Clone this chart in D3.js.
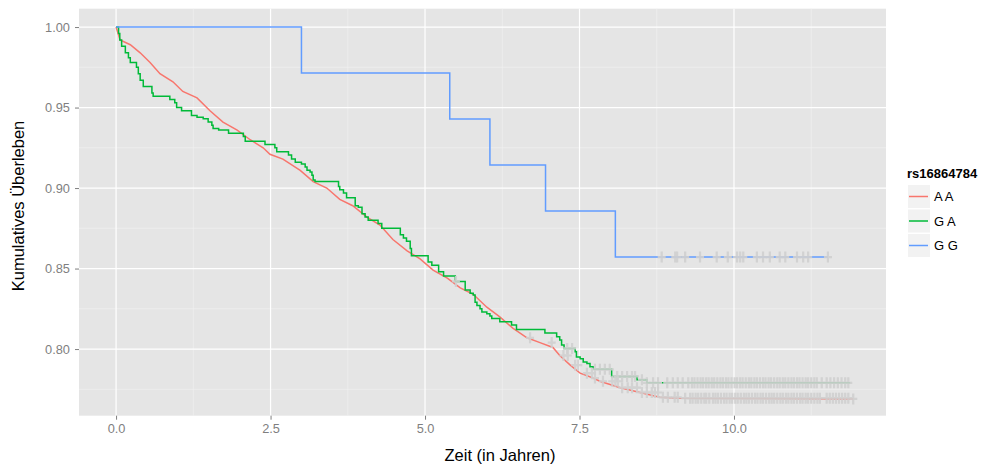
<!DOCTYPE html>
<html>
<head>
<meta charset="utf-8">
<script src="https://d3js.org/d3.v7.min.js"></script>
<style>
  body { margin: 0; background: #fff; }
  text { font-family: "Liberation Sans", Arial, Helvetica, sans-serif; }
</style>
</head>
<body>
<svg width="982" height="468"></svg>
<script>
// Kaplan-Meier steps per genotype: [time in years, survival]
var stepsAA = [[0,1],[0.065,0.992],[0.23,0.989],[0.39,0.984],[0.55,0.978],[0.71,0.971],[0.92,0.966],[1.08,0.960],
  [1.31,0.956],[1.52,0.948],[1.73,0.941],[1.96,0.936],[2.17,0.930],[2.38,0.925],[2.49,0.921],[2.70,0.918],
  [2.98,0.911],[3.19,0.904],[3.41,0.900],[3.62,0.893],[3.83,0.889],[4.06,0.882],[4.27,0.877],[4.48,0.868],
  [4.71,0.861],[4.92,0.856],[5.13,0.849],[5.36,0.844],[5.57,0.838],[5.78,0.834],[6.0,0.826],[6.21,0.820],
  [6.42,0.813],[6.65,0.807],[6.86,0.804],[7.07,0.801],[7.18,0.796],[7.35,0.790],[7.51,0.785],[7.72,0.782],
  [7.83,0.780],[8.16,0.776],[8.48,0.773],[8.80,0.770],[9.13,0.7695],[11.93,0.769]];
var stepsGA = [[0,1],[0.04,0.996],[0.06,0.992],[0.09,0.988],[0.15,0.984],[0.20,0.981],[0.23,0.978],[0.33,0.975],
  [0.36,0.971],[0.39,0.967],[0.44,0.963],[0.58,0.959],[0.60,0.957],[0.87,0.955],[0.95,0.953],[0.98,0.950],
  [1.06,0.948],[1.22,0.945],[1.31,0.944],[1.41,0.943],[1.49,0.941],[1.55,0.939],[1.57,0.937],[1.66,0.936],
  [1.82,0.934],[2.06,0.932],[2.09,0.929],[2.41,0.927],[2.57,0.925],[2.60,0.9226],[2.79,0.9205],[2.84,0.918],
  [2.90,0.916],[3.0,0.915],[3.06,0.913],[3.09,0.911],[3.14,0.910],[3.17,0.908],[3.19,0.905],[3.22,0.904],
  [3.60,0.901],[3.62,0.899],[3.68,0.897],[3.73,0.894],[3.87,0.889],[3.92,0.888],[3.98,0.884],[4.03,0.882],
  [4.08,0.880],[4.24,0.878],[4.30,0.875],[4.60,0.871],[4.65,0.869],[4.70,0.867],[4.76,0.8625],[4.78,0.858],
  [5.05,0.854],[5.11,0.852],[5.22,0.848],[5.30,0.8453],[5.49,0.842],[5.65,0.8367],[5.73,0.8346],[5.78,0.8335],
  [5.81,0.829],[5.84,0.827],[5.89,0.825],[5.92,0.823],[6.0,0.822],[6.05,0.8205],[6.08,0.819],[6.21,0.817],
  [6.40,0.815],[6.48,0.8122],[6.94,0.810],[7.13,0.8076],[7.18,0.8056],[7.21,0.8025],[7.25,0.8004],[7.43,0.7983],
  [7.45,0.795],[7.51,0.794],[7.56,0.792],[7.62,0.791],[7.67,0.789],[7.72,0.7874],[8.02,0.783],[8.43,0.781],
  [8.59,0.779],[11.88,0.779]];
var stepsGG = [[0,1],[3.0,0.9714],[5.4,0.9429],[6.05,0.9143],[6.95,0.8857],[8.08,0.8571],[11.52,0.8571]];

// censoring times (drawn as + marks)
var censAA = [6.70,7.05,7.24,7.31,7.43,7.48,7.62,7.70,7.75,7.88,8.03,8.08,8.12,8.19,8.28,8.35,8.43,8.51,8.59,8.67,
  8.72,8.77,8.85,8.93,9.04,9.09,9.21,9.29,9.33,9.38,9.42,9.47,9.52,9.55,9.60,9.66,9.70,9.74,9.79,9.84,9.88,
  9.93,9.97,10.02,10.06,10.11,10.16,10.20,10.24,10.29,10.34,10.38,10.43,10.47,10.52,10.57,10.61,10.65,10.70,
  10.75,10.79,10.84,10.88,10.93,10.97,11.02,11.07,11.11,11.16,11.20,11.25,11.30,11.35,11.39,11.50,11.55,
  11.60,11.65,11.70,11.75,11.80,11.85,11.93];
var censGA = [5.50,7.30,7.38,7.75,7.83,7.91,7.99,8.11,8.19,8.27,8.35,8.40,8.51,8.59,8.69,8.77,8.92,9.01,9.09,9.17,
  9.26,9.32,9.36,9.41,9.46,9.50,9.55,9.59,9.64,9.68,9.73,9.78,9.82,9.87,9.91,9.96,10.01,10.05,10.10,10.14,
  10.19,10.24,10.28,10.33,10.37,10.42,10.47,10.51,10.56,10.60,10.65,10.70,10.74,10.79,10.83,10.88,10.93,
  10.97,11.02,11.06,11.11,11.16,11.20,11.25,11.30,11.34,11.42,11.50,11.56,11.62,11.68,11.74,11.80,11.85];
var censGG = [8.83,9.05,9.08,9.21,9.45,9.72,9.90,10.05,10.10,10.15,10.37,10.47,10.58,10.74,10.83,11.02,11.12,11.20,11.52];

var groups = ["A A", "G A", "G G"];
var colors = ["#F8766D", "#00BA38", "#619CFF"];
var xTicks = [0, 2.5, 5, 7.5, 10];
var xMinor = [1.25, 3.75, 6.25, 8.75, 11.25];
var yTicks = [0.80, 0.85, 0.90, 0.95, 1.00];
var yMinor = [0.775, 0.825, 0.875, 0.925, 0.975];

var svg = d3.select("svg");
var panel = {left: 79, right: 886, top: 8.7, bottom: 415.7};

var x = d3.scaleLinear().domain([-0.6, 12.46]).range([panel.left, panel.right]);
var y = d3.scaleLinear().domain([0.7586, 1.0114]).range([panel.bottom, panel.top]);

// panel background
svg.append("rect")
  .attr("x", panel.left).attr("y", panel.top)
  .attr("width", panel.right - panel.left).attr("height", panel.bottom - panel.top)
  .attr("fill", "#E5E5E5");

// grid lines
var grid = svg.append("g");
grid.selectAll(".xminor").data(xMinor).enter().append("line")
  .attr("x1", d => x(d)).attr("x2", d => x(d))
  .attr("y1", panel.top).attr("y2", panel.bottom)
  .attr("stroke", "#F2F2F2").attr("stroke-width", 0.6);
grid.selectAll(".yminor").data(yMinor).enter().append("line")
  .attr("y1", d => y(d)).attr("y2", d => y(d))
  .attr("x1", panel.left).attr("x2", panel.right)
  .attr("stroke", "#F2F2F2").attr("stroke-width", 0.6);
grid.selectAll(".xmajor").data(xTicks).enter().append("line")
  .attr("x1", d => x(d)).attr("x2", d => x(d))
  .attr("y1", panel.top).attr("y2", panel.bottom)
  .attr("stroke", "#FFFFFF").attr("stroke-width", 1.2);
grid.selectAll(".ymajor").data(yTicks).enter().append("line")
  .attr("y1", d => y(d)).attr("y2", d => y(d))
  .attr("x1", panel.left).attr("x2", panel.right)
  .attr("stroke", "#FFFFFF").attr("stroke-width", 1.2);

// axes
var xAxis = svg.append("g")
  .attr("transform", "translate(0," + panel.bottom + ")")
  .call(d3.axisBottom(x).tickValues(xTicks).tickFormat(d3.format(".1f")).tickSize(4).tickPadding(4));
var yAxis = svg.append("g")
  .attr("transform", "translate(" + panel.left + ",0)")
  .call(d3.axisLeft(y).tickValues(yTicks).tickFormat(d3.format(".2f")).tickSize(4).tickPadding(5));
[xAxis, yAxis].forEach(function(a) {
  a.select(".domain").remove();
  a.selectAll("line").attr("stroke", "#7F7F7F");
  a.selectAll("text").attr("fill", "#7F7F7F").style("font-size", "12.8px")
    .style("font-family", "'Liberation Sans', Arial, sans-serif");
});

// survival curves
var stepLine = d3.line().x(d => x(d[0])).y(d => y(d[1])).curve(d3.curveStepAfter);
var fineLine = d3.line().x(d => x(d[0])).y(d => y(d[1]));
var curves = [
  {steps: stepsAA, cens: censAA, line: fineLine},
  {steps: stepsGA, cens: censGA, line: stepLine},
  {steps: stepsGG, cens: censGG, line: stepLine}
];

// survival value at time t (step function)
function survAt(steps, t) {
  var s = steps[0][1];
  steps.forEach(function(p) { if (p[0] <= t) s = p[1]; });
  return s;
}

curves.forEach(function(c, i) {
  svg.append("path")
    .datum(c.steps)
    .attr("d", c.line)
    .attr("fill", "none")
    .attr("stroke", colors[i])
    .attr("stroke-width", 1.5);
});

// censor marks on top
curves.forEach(function(c) {
  var g = svg.append("g").attr("stroke", "#D0D0D0").attr("stroke-width", 2.2).attr("opacity", 0.9);
  g.selectAll("path").data(c.cens).enter().append("path")
    .attr("d", function(t) {
      var cx = x(t), cy = y(survAt(c.steps, t));
      return "M" + (cx - 4) + "," + cy + "H" + (cx + 4) + "M" + cx + "," + (cy - 5.5) + "V" + (cy + 5.5);
    });
});

// axis titles
svg.append("text")
  .attr("x", 500).attr("y", 461)
  .attr("text-anchor", "middle")
  .style("font-size", "16.5px")
  .text("Zeit (in Jahren)");
svg.append("text")
  .attr("transform", "translate(24,206) rotate(-90)")
  .attr("text-anchor", "middle")
  .style("font-size", "16.5px")
  .text("Kumulatives Überleben");

// legend
var legend = svg.append("g").attr("transform", "translate(907,0)");
legend.append("text")
  .attr("x", 0).attr("y", 178)
  .style("font-size", "13px").style("font-weight", "bold")
  .text("rs16864784");
var keys = legend.selectAll(".key").data(groups).enter().append("g")
  .attr("transform", (d, i) => "translate(0," + (185 + i * 24.5) + ")");
keys.append("rect")
  .attr("x", 1).attr("width", 22).attr("height", 23)
  .attr("fill", "#F2F2F2");
keys.append("line")
  .attr("x1", 2).attr("x2", 21).attr("y1", 11.5).attr("y2", 11.5)
  .attr("stroke", (d, i) => colors[i]).attr("stroke-width", 1.5);
keys.append("text")
  .attr("x", 27).attr("y", 16)
  .style("font-size", "13px")
  .text(d => d);
</script>
</body>
</html>
